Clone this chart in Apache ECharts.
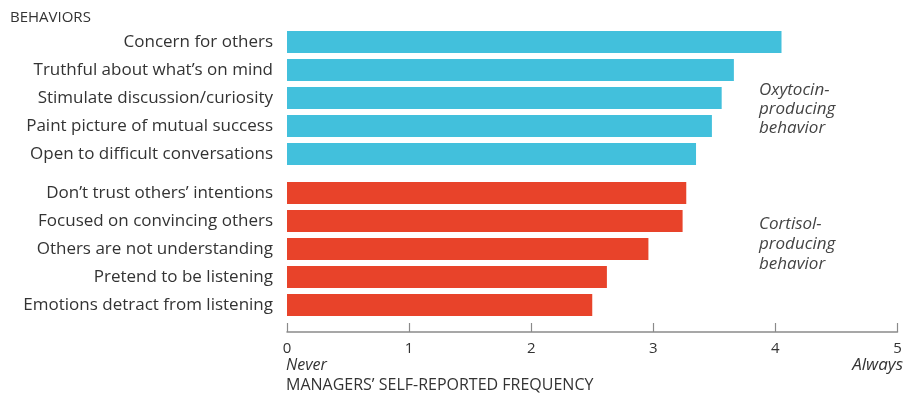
<!DOCTYPE html>
<html>
<head>
<meta charset="utf-8">
<script src="https://cdn.jsdelivr.net/npm/echarts@6/dist/echarts.min.js"></script>
<style>
  html, body { margin: 0; padding: 0; background: #fff; }
  #chart { width: 913px; height: 396px; }
</style>
</head>
<body>
<div id="chart"></div>
<script>
// oxytocin-producing behaviors (top group)
const oxytocinLabels = [
  'Concern for others',
  'Truthful about what\u2019s on mind',
  'Stimulate discussion/curiosity',
  'Paint picture of mutual success',
  'Open to difficult conversations'
]
const oxytocinValues = [4.05, 3.66, 3.56, 3.48, 3.35]

// cortisol-producing behaviors (bottom group)
const cortisolLabels = [
  'Don\u2019t trust others\u2019 intentions',
  'Focused on convincing others',
  'Others are not understanding',
  'Pretend to be listening',
  'Emotions detract from listening'
]
const cortisolValues = [3.27, 3.24, 2.96, 2.62, 2.50]

const xTicks = [0, 1, 2, 3, 4, 5]

const FONT = 'Open Sans'
const TEXT = '#333'
const BLUE = '#42c0dc'
const RED = '#e8432a'

const chart = echarts.init(document.getElementById('chart'))

const xBase = {
  type: 'value',
  min: xTicks[0],
  max: xTicks[xTicks.length - 1],
  interval: 1,
  splitLine: { show: false }
}

const yBase = (data, idx) => ({
  type: 'category',
  gridIndex: idx,
  data,
  inverse: true,
  axisLine: { show: false },
  axisTick: { show: false },
  axisLabel: {
    fontFamily: FONT,
    fontSize: 17,
    color: TEXT,
    margin: 14
  }
})

chart.setOption({
  animation: false,
  grid: [
    { left: 287, right: 15.5, top: 28, height: 140 },
    { left: 287, right: 15.5, top: 179, height: 140 }
  ],
  xAxis: [
    Object.assign({}, xBase, { gridIndex: 0, show: false }),
    Object.assign({}, xBase, {
      gridIndex: 1,
      position: 'bottom',
      offset: 13,
      axisLine: { show: true, lineStyle: { color: '#8a8a8a', width: 1.5 } },
      axisTick: { show: true, inside: true, length: 9, lineStyle: { color: '#8a8a8a', width: 1.2 } },
      axisLabel: {
        fontFamily: FONT,
        fontSize: 15,
        color: TEXT,
        margin: 9,
        formatter: v => String(v)
      }
    })
  ],
  yAxis: [yBase(oxytocinLabels, 0), yBase(cortisolLabels, 1)],
  series: [
    {
      type: 'bar',
      xAxisIndex: 0,
      yAxisIndex: 0,
      data: oxytocinValues,
      barWidth: 22,
      itemStyle: { color: BLUE }
    },
    {
      type: 'bar',
      xAxisIndex: 1,
      yAxisIndex: 1,
      data: cortisolValues,
      barWidth: 22,
      itemStyle: { color: RED }
    }
  ],
  graphic: [
    {
      type: 'text', left: 10, top: 10,
      style: { text: 'BEHAVIORS', font: '15px "' + FONT + '"', fill: TEXT, letterSpacing: 1 }
    },
    {
      type: 'text', left: 759, top: 81,
      style: {
        text: 'Oxytocin-\nproducing\nbehavior',
        font: 'italic 17px "' + FONT + '"', fill: '#444', lineHeight: 19
      }
    },
    {
      type: 'text', left: 759, top: 214,
      style: {
        text: 'Cortisol-\nproducing\nbehavior',
        font: 'italic 17px "' + FONT + '"', fill: '#444', lineHeight: 20
      }
    },
    {
      type: 'text', left: 286, top: 357,
      style: { text: 'Never', font: 'italic 16px "' + FONT + '"', fill: TEXT }
    },
    {
      type: 'text', right: 10, top: 357,
      style: { text: 'Always', font: 'italic 17px "' + FONT + '"', fill: TEXT, align: 'right' }
    },
    {
      type: 'text', left: 286, top: 377,
      style: { text: 'MANAGERS\u2019 SELF-REPORTED FREQUENCY', font: '16px "' + FONT + '"', fill: TEXT, letterSpacing: 1.3 }
    }
  ]
})
</script>
</body>
</html>
